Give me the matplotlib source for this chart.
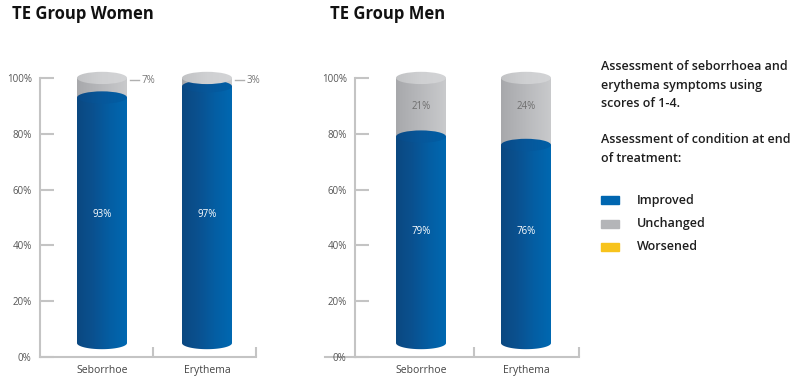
import matplotlib.pyplot as plt
import numpy as np
from matplotlib.colors import LinearSegmentedColormap
from matplotlib.patches import Ellipse, Polygon, Rectangle

plt.rcParams['font.family'] = ['Open Sans', 'DejaVu Sans']

categories = ['Seborrhoe', 'Erythema']
women_improved = [93, 97]
women_unchanged = [7, 3]
men_improved = [79, 76]
men_unchanged = [21, 24]

legend_labels = ['Improved', 'Unchanged', 'Worsened']
legend_colors = ['#0066b0', '#b4b5b8', '#f7c31c']
note_lines = ['Assessment of seborrhoea and', 'erythema symptoms using',
              'scores of 1-4.', '', 'Assessment of condition at end',
              'of treatment:']

W, H = 799, 383
BASE = 5          # cylinders start a little above 0
ELL_H = 4.4       # ellipse height in % units
AXIS_COL = '#c4c4c4'

blue_body = LinearSegmentedColormap.from_list('bb', ['#0b4880', '#0a5190', '#045ea3', '#0068b1'])
blue_top = LinearSegmentedColormap.from_list('bt', ['#0a4a86', '#07579a', '#005fa6'])
grey_body = LinearSegmentedColormap.from_list('gb', ['#a7a8ab', '#b8b9bc', '#c9cacc'])
grey_top = LinearSegmentedColormap.from_list('gt', ['#c2c3c5', '#cfd0d2', '#d3d4d6'])

grad = np.linspace(0, 1, 256)[None, :]


def fill_gradient(ax, patch, cmap, x0, x1, y0, y1, z):
    patch.set_facecolor('none')
    patch.set_edgecolor('none')
    ax.add_patch(patch)
    im = ax.imshow(grad, cmap=cmap, extent=[x0, x1, y0, y1], aspect='auto',
                   origin='lower', zorder=z, interpolation='bicubic')
    im.set_clip_path(patch)


def body(ax, cx, w, y0, y1, cmap, z):
    t = np.linspace(np.pi, 2 * np.pi, 60)
    xs = cx + w / 2 * np.cos(t)
    ys = y0 + ELL_H / 2 * np.sin(t)
    pts = list(zip(xs, ys)) + [(cx + w / 2, y1), (cx - w / 2, y1)]
    fill_gradient(ax, Polygon(pts, closed=True), cmap,
                  cx - w / 2, cx + w / 2, y0 - ELL_H, y1, z)


def top(ax, cx, w, y, cmap, z):
    fill_gradient(ax, Ellipse((cx, y), w, ELL_H), cmap,
                  cx - w / 2, cx + w / 2, y - ELL_H, y + ELL_H, z)


def panel(left_px, width_px, bars_px, mid_px, improved, unchanged, title, title_x, outside):
    ax = fig.add_axes([left_px / W, (H - 357) / H, width_px / W, 293 / H])
    ax.set_xlim(0, width_px)
    ax.set_ylim(0, 105)
    for s in ['top', 'right']:
        ax.spines[s].set_visible(False)
    for s in ['left', 'bottom']:
        ax.spines[s].set_color(AXIS_COL)
        ax.spines[s].set_linewidth(1.5)
    ax.spines['left'].set_bounds(0, 100)
    ax.set_yticks(range(0, 101, 20))
    ax.set_yticklabels([f'{v}%' for v in range(0, 101, 20)])
    ax.tick_params(axis='y', direction='in', length=10, width=1.5, color=AXIS_COL,
                   labelsize=7, labelcolor='#555555', pad=6)
    ax.set_xticks([mid_px, width_px])
    ax.set_xticklabels([])
    ax.tick_params(axis='x', direction='in', length=7, width=1.5, color=AXIS_COL)

    bw = 50
    for i, cx in enumerate(bars_px):
        imp, unc = improved[i], unchanged[i]
        tot = imp + unc
        body(ax, cx, bw, imp, tot, grey_body, 2)
        body(ax, cx, bw, BASE, imp, blue_body, 3)
        top(ax, cx, bw, imp, blue_top, 4)
        top(ax, cx, bw, tot, grey_top, 5)
        ax.text(cx, -5, categories[i], ha='center', va='center', fontsize=7.5,
                color='#444444', clip_on=False)
        if outside:
            ax.text(cx, 51, f'{imp}%', ha='center', va='center', fontsize=7,
                    color='white', zorder=6)
            x0 = cx + bw / 2 + 3
            ax.plot([x0, x0 + 9], [99.2, 99.2], color='#b0b0b0', lw=1, zorder=6)
            ax.text(x0 + 12, 99.2, f'{unc}%', ha='left', va='center', fontsize=7,
                    color='#777777', zorder=6)
        else:
            ax.text(cx, 45, f'{imp}%', ha='center', va='center', fontsize=7,
                    color='white', zorder=6)
            ax.text(cx, 89.6, f'{unc}%', ha='center', va='center', fontsize=7,
                    color='#6f6f6f', zorder=6)
    fig.text(title_x / W, 1 - 14 / H, title, fontsize=12, fontweight='bold',
             color='#111111', va='center', ha='left')
    return ax


fig = plt.figure(figsize=(W / 100, H / 100), dpi=100)

panel(40, 216, [62, 167], 113, women_improved, women_unchanged, 'TE Group Women', 12, True)
ax2 = panel(355, 224, [66, 171], 119, men_improved, men_unchanged, 'TE Group Men', 330, False)
ax2.plot([-30, 0], [0, 0], color=AXIS_COL, lw=1.5, clip_on=False, zorder=1)

y = 67
for line in note_lines:
    if line:
        fig.text(601 / W, 1 - y / H, line, fontsize=9, fontweight='semibold',
                 color='#1e1e1e', va='center', ha='left')
    y += 18.2

ly = 200
for lab, col in zip(legend_labels, legend_colors):
    fig.add_artist(Rectangle((601 / W, 1 - (ly + 4) / H), 18 / W, 8 / H,
                             transform=fig.transFigure, color=col))
    fig.text(637 / W, 1 - ly / H, lab, fontsize=9, fontweight='semibold',
             color='#1e1e1e', va='center', ha='left')
    ly += 23.5

fig.savefig('out.png', dpi=100)
